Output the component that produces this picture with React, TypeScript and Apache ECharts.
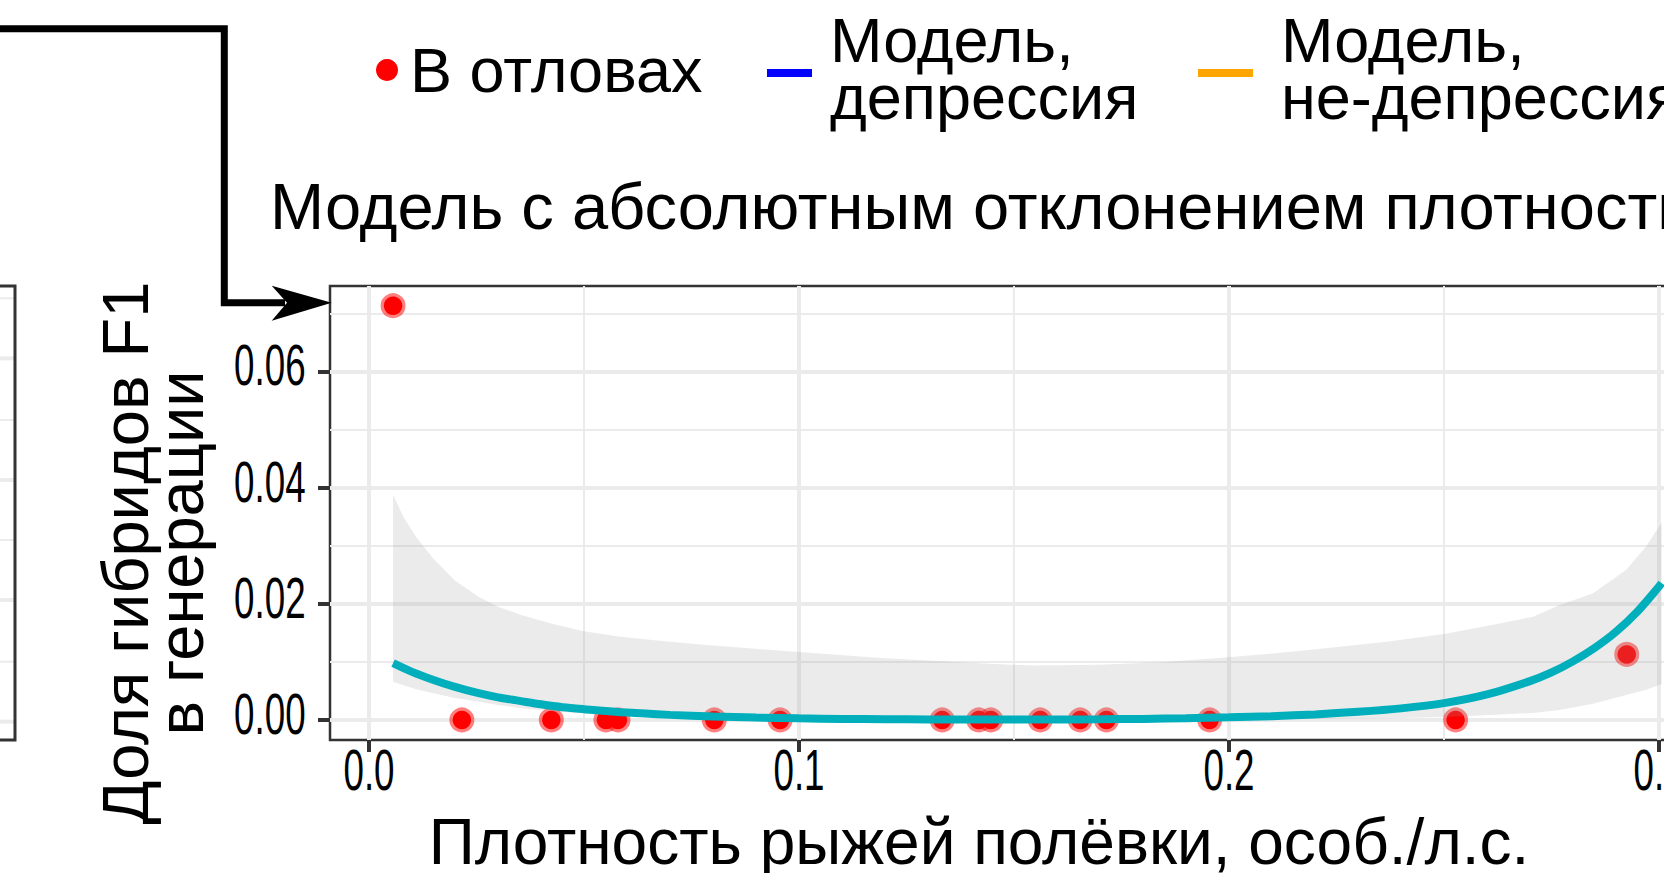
import React, { useEffect, useRef } from 'react';
import * as echarts from 'echarts';

// ---- data ----
const POINT_X = [0.0056, 0.0216, 0.0424, 0.0551, 0.0579, 0.0803, 0.0956, 0.1333, 0.1418, 0.1446, 0.1561, 0.1654, 0.1715, 0.1955, 0.2527, 0.2925];
const POINT_Y = [0.0714, 0, 0, 0, 0, 0, 0, 0, 0, 0, 0, 0, 0, 0, 0, 0.0113];

const CURVE_X = [0.0056, 0.010, 0.015, 0.020, 0.025, 0.030, 0.035, 0.040, 0.045, 0.050, 0.060, 0.070, 0.080, 0.090, 0.100, 0.110, 0.120, 0.130, 0.140, 0.150, 0.160, 0.170, 0.180, 0.190, 0.200, 0.210, 0.220, 0.230, 0.240, 0.250, 0.260, 0.270, 0.275, 0.280, 0.285, 0.290, 0.295, 0.300, 0.3006];
const CURVE_Y = [0.0098, 0.0083, 0.0069, 0.0057, 0.0047, 0.0039, 0.0033, 0.0027, 0.0022, 0.00186, 0.00127, 0.00088, 0.00060, 0.00041, 0.00028, 0.00019, 0.00013, 0.0001, 0.00008, 0.00007, 0.00008, 0.00012, 0.00019, 0.0003, 0.00045, 0.00066, 0.00096, 0.0014, 0.0020, 0.0029, 0.0044, 0.0067, 0.0082, 0.0101, 0.0124, 0.0152, 0.0187, 0.0230, 0.0236];

const RIBBON_X = [0.0056, 0.0080, 0.0110, 0.0150, 0.0200, 0.0254, 0.0300, 0.0358, 0.0430, 0.0500, 0.0580, 0.0669, 0.0770, 0.0877, 0.1000, 0.1190, 0.1466, 0.1550, 0.1700, 0.1850, 0.2000, 0.2180, 0.2367, 0.2500, 0.2594, 0.2707, 0.2769, 0.2846, 0.2924, 0.2970, 0.3006];
const RIBBON_HIGH = [0.0388, 0.0350, 0.0315, 0.0278, 0.0240, 0.0213, 0.0195, 0.0180, 0.0165, 0.0153, 0.0144, 0.0137, 0.0130, 0.0124, 0.0117, 0.0107, 0.0096, 0.0094, 0.0095, 0.0100, 0.0108, 0.0120, 0.0135, 0.0148, 0.0161, 0.0178, 0.0198, 0.0218, 0.0259, 0.0299, 0.0340];
const RIBBON_LOW = [0.0066, 0.0060, 0.0053, 0.0046, 0.0038, 0.0032, 0.0026, 0.0020, 0.0015, 0.00115, 0.0008, 0.0006, 0.0004, 0.00025, 0.00015, 0.00006, 0.00002, 0.00002, 0.00003, 0.00005, 0.0001, 0.00018, 0.0003, 0.0005, 0.0008, 0.0012, 0.0017, 0.0028, 0.0043, 0.0052, 0.0062];

const X_TICKS = [0, 0.1, 0.2, 0.3];
const X_MINOR = [0.05, 0.15, 0.25];
const Y_TICKS = [0, 0.02, 0.04, 0.06];
const Y_MINOR = [0.01, 0.03, 0.05, 0.07];
const X_MIN = -0.00907;
const X_MAX = 0.31535;
const Y_MIN = -0.00345;
const Y_MAX = 0.0748;

const TITLE = 'Модель с абсолютным отклонением плотности';
const X_NAME = 'Плотность рыжей полёвки, особ./л.с.';
const Y_NAME = 'Доля гибридов F1\nв генерации';
const LEG_POINTS = 'В отловах';
const LEG_DEP = 'Модель,\nдепрессия';
const LEG_NONDEP = 'Модель,\nне-депрессия';

const FONT = "'Liberation Sans', Arial, Helvetica, sans-serif";

export default function App() {
  const ref = useRef<HTMLDivElement>(null);
  useEffect(() => {
    const chart = echarts.init(ref.current as HTMLDivElement, null, { renderer: 'svg' });
    const points = POINT_X.map((x, i) => [x, POINT_Y[i]]);
    const curve = CURVE_X.map((x, i) => [x, CURVE_Y[i]]);

    const option: any = {
      animation: false,
      backgroundColor: '#ffffff',
      title: {
        text: TITLE,
        left: 270,
        top: 173.5,
        padding: 0,
        textStyle: { fontFamily: FONT, fontSize: 65, lineHeight: 65, fontWeight: 'normal', color: '#000' },
      },
      legend: [
        {
          data: [LEG_POINTS], left: 376, top: 38.5, padding: 0, selectedMode: false,
          icon: 'circle', itemWidth: 22, itemHeight: 22,
          itemStyle: { color: '#ff0000', borderWidth: 0 },
          textStyle: { fontFamily: FONT, fontSize: 63, lineHeight: 63, color: '#000', padding: [0, 0, 0, 7] },
        },
        {
          data: [LEG_DEP], left: 767, top: 8, padding: 0, selectedMode: false,
          icon: 'path://M0,0L45,0Z M0,10L45,10L45,18L0,18Z', itemWidth: 45, itemHeight: 18,
          itemStyle: { color: '#0000ff', borderWidth: 0 },
          textStyle: { fontFamily: FONT, fontSize: 63, lineHeight: 57, color: '#000', padding: [0, 0, 0, 13] },
        },
        {
          data: [LEG_NONDEP], left: 1198, top: 8, padding: 0, selectedMode: false,
          icon: 'path://M0,0L55,0Z M0,10L55,10L55,18L0,18Z', itemWidth: 55, itemHeight: 18,
          itemStyle: { color: '#ffa500', borderWidth: 0 },
          textStyle: { fontFamily: FONT, fontSize: 63, lineHeight: 57, color: '#000', padding: [0, 0, 0, 23] },
        },
      ],
      grid: {
        left: 330, top: 286, width: 1395, height: 454,
        outerBoundsMode: 'none', containLabel: false,
        show: true, borderColor: '#333333', borderWidth: 2.5, backgroundColor: 'transparent',
      },
      xAxis: [
        {
          type: 'value', min: X_MIN, max: X_MAX,
          axisLine: { show: false, onZero: false },
          axisTick: { show: true, customValues: X_TICKS, length: 12, lineStyle: { color: '#333333', width: 4 } },
          axisLabel: { show: false, customValues: X_TICKS },
          splitLine: { show: true, lineStyle: { color: '#ebebeb', width: 4 } },
          name: X_NAME, nameLocation: 'middle', nameGap: 72, nameMoveOverlap: false,
          nameTextStyle: { fontFamily: FONT, fontSize: 64, lineHeight: 60, color: '#000', padding: [0, 97, 0, 0] },
        },
        {
          type: 'value', min: X_MIN, max: X_MAX, position: 'bottom',
          axisLine: { show: false, onZero: false }, axisLabel: { show: false },
          axisTick: { show: false, customValues: X_MINOR },
          splitLine: { show: true, lineStyle: { color: '#ebebeb', width: 2 } },
        },
      ],
      yAxis: [
        {
          type: 'value', min: Y_MIN, max: Y_MAX,
          axisLine: { show: false, onZero: false },
          axisTick: { show: true, customValues: Y_TICKS, length: 12, lineStyle: { color: '#333333', width: 4 } },
          axisLabel: { show: false, customValues: Y_TICKS },
          splitLine: { show: true, lineStyle: { color: '#ebebeb', width: 4 } },
          name: Y_NAME, nameLocation: 'middle', nameRotate: 90, nameGap: 122, nameMoveOverlap: false,
          nameTextStyle: { fontFamily: FONT, fontSize: 65, lineHeight: 55, color: '#000', padding: [0, 80, 0, 0] },
        },
        {
          type: 'value', min: Y_MIN, max: Y_MAX, position: 'left',
          axisLine: { show: false, onZero: false }, axisLabel: { show: false },
          axisTick: { show: false, customValues: Y_MINOR },
          splitLine: { show: true, lineStyle: { color: '#ebebeb', width: 2 } },
        },
      ],
      series: [
        {
          name: LEG_POINTS, type: 'scatter', xAxisIndex: 0, yAxisIndex: 0, z: 2,
          data: points, symbolSize: 18.5,
          itemStyle: { color: '#ff0000', borderColor: 'rgba(255,0,0,0.5)', borderWidth: 6.5, opacity: 1 },
        },
        {
          name: 'ribbon', type: 'custom', xAxisIndex: 0, yAxisIndex: 0, z: 3, silent: true,
          data: [[RIBBON_X[0], RIBBON_LOW[0]]],
          renderItem: (params: any, api: any) => {
            const top = RIBBON_X.map((x, i) => api.coord([x, RIBBON_HIGH[i]]));
            const bottom = RIBBON_X.map((x, i) => api.coord([x, RIBBON_LOW[i]])).reverse();
            return {
              type: 'polygon',
              shape: { points: top.concat(bottom), smooth: 0 },
              style: { fill: 'rgba(153,153,153,0.2)', stroke: null },
            };
          },
        },
        {
          name: 'fit', type: 'line', xAxisIndex: 0, yAxisIndex: 0, z: 4,
          data: curve, showSymbol: false, smooth: 0.3,
          lineStyle: { color: '#00AFBB', width: 8 },
          itemStyle: { color: '#00AFBB' },
        },
        {
          name: LEG_DEP, type: 'line', data: [], color: '#0000ff',
          itemStyle: { color: '#0000ff' }, lineStyle: { color: '#0000ff' },
        },
        {
          name: LEG_NONDEP, type: 'line', data: [], color: '#ffa500',
          itemStyle: { color: '#ffa500' }, lineStyle: { color: '#ffa500' },
        },
      ],
    };
    chart.setOption(option);

    // tick labels: condensed text placed through the axes' own scales
    const xPix = (v: number) => chart.convertToPixel({ xAxisIndex: 0 }, v) as number;
    const yPix = (v: number) => chart.convertToPixel({ yAxisIndex: 0 }, v) as number;
    const axisBottom = yPix(Y_MIN);
    const axisLeft = xPix(X_MIN);
    const tickFont = { fontFamily: FONT, fontSize: 57, fill: '#000' };
    const xLabels = X_TICKS.map((v) => ({
      type: 'text', x: xPix(v), y: axisBottom + 30, scaleX: 0.645, z: 20,
      style: { ...tickFont, text: v.toFixed(1), align: 'center', verticalAlign: 'middle' },
    }));
    const yLabels = Y_TICKS.map((v) => ({
      type: 'text', x: axisLeft - 24.4, y: yPix(v) - 6, scaleX: 0.645, z: 20,
      style: { ...tickFont, text: v.toFixed(2), align: 'right', verticalAlign: 'middle' },
    }));

    const leftGridThin = [298.3, 420, 540, 661.7];
    const leftGridThick = [358.3, 480, 600, 721.7];
    const decorations = [
      ...leftGridThin.map((y) => ({
        type: 'line', shape: { x1: 0, y1: y, x2: 14, y2: y },
        style: { stroke: '#ebebeb', lineWidth: 2 }, z: 1,
      })),
      ...leftGridThick.map((y) => ({
        type: 'line', shape: { x1: 0, y1: y, x2: 14, y2: y },
        style: { stroke: '#ebebeb', lineWidth: 4 }, z: 1,
      })),
      {
        type: 'rect', shape: { x: -20, y: 286, width: 35, height: 454 },
        style: { fill: 'none', stroke: '#333333', lineWidth: 3 }, z: 2,
      },
      {
        type: 'polyline',
        shape: { points: [[-5, 28.7], [224.3, 28.7], [224.3, 302.7], [285, 302.7]] },
        style: { stroke: '#000', lineWidth: 7, fill: null, lineJoin: 'miter' }, z: 10,
      },
      {
        type: 'polygon',
        shape: { points: [[271.7, 285.7], [331.7, 302.7], [271.7, 320.7], [287, 302.7]] },
        style: { fill: '#000', stroke: null }, z: 10,
      },
    ];
    chart.setOption({ graphic: [...decorations, ...xLabels, ...yLabels] });
    return () => chart.dispose();
  }, []);
  return (
    <div
      ref={ref}
      style={{ position: 'fixed', left: 0, top: 0, width: 1664, height: 873, background: '#fff' }}
    />
  );
}
